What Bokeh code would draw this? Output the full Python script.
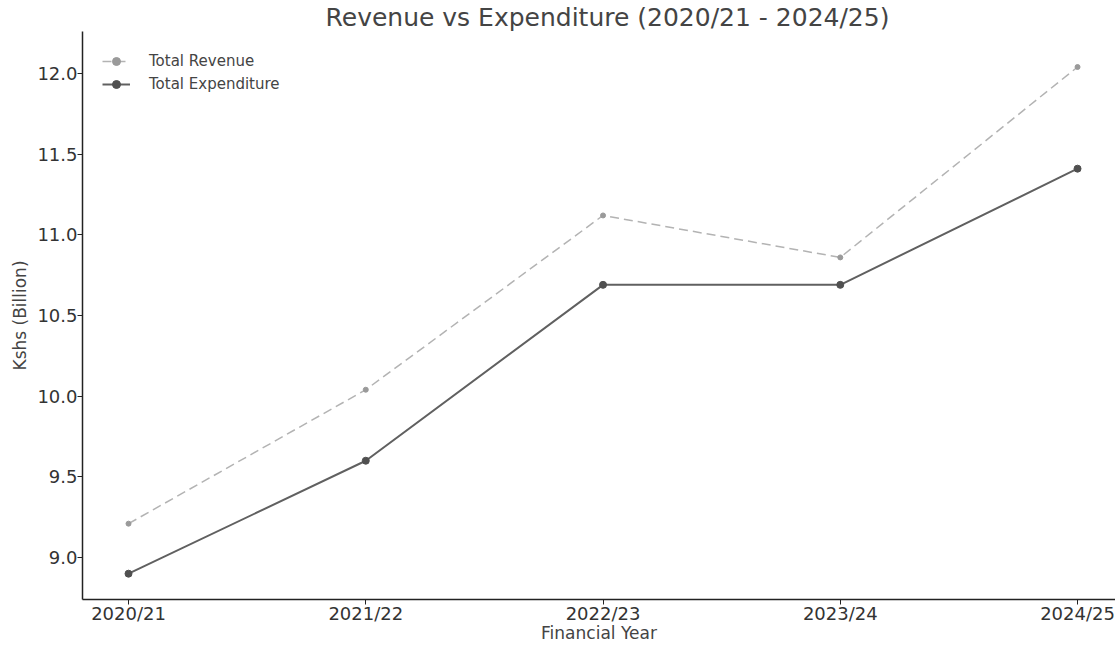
from bokeh.plotting import figure
from bokeh.models import FixedTicker, Range1d, Legend, LegendItem
from bokeh.embed import file_html
from bokeh.resources import INLINE

years = ["2020/21", "2021/22", "2022/23", "2023/24", "2024/25"]
revenue = [9.21, 10.04, 11.12, 10.86, 12.04]
expenditure = [8.90, 9.60, 10.69, 10.69, 11.41]
y_ticks = [9.0, 9.5, 10.0, 10.5, 11.0, 11.5, 12.0]

xs = list(range(len(years)))
FONT = "DejaVu Sans"

p = figure(width=1115, height=646, output_backend="svg", toolbar_location=None,
           x_range=Range1d(-0.194, 4.160), y_range=Range1d(8.74, 12.26),
           min_border_left=82, min_border_right=0, min_border_top=30, min_border_bottom=47,
           title="Revenue vs Expenditure (2020/21 - 2024/25)")

p.title.text_font = FONT
p.title.text_font_size = "25px"
p.title.text_font_style = "normal"
p.title.text_color = "#444444"
p.title.align = "left"
p.title.offset = 243
p.title.standoff = 0

p.outline_line_color = None
p.grid.visible = False
p.background_fill_color = "white"

r_rev_l = p.line(xs, revenue, line_color="#b3b3b3", line_width=1.5, line_dash="9 5")
r_rev_m = p.scatter(xs, revenue, size=5, fill_color="#9a9a9a", line_color="#9a9a9a")
r_exp_l = p.line(xs, expenditure, line_color="#606060", line_width=2)
r_exp_m = p.scatter(xs, expenditure, size=7, fill_color="#505050", line_color="#505050")

legend = Legend(items=[
    LegendItem(label="Total Revenue", renderers=[r_rev_l, r_rev_m]),
    LegendItem(label="Total Expenditure", renderers=[r_exp_l, r_exp_m]),
], location="top_left")
legend.border_line_color = None
legend.background_fill_alpha = 0
legend.label_text_font = FONT
legend.label_text_font_size = "15px"
legend.label_text_color = "#444444"
legend.glyph_width = 28
legend.glyph_height = 20
legend.label_standoff = 19
legend.spacing = 3
legend.margin = 20
legend.padding = 10
p.add_layout(legend)

p.xaxis.ticker = FixedTicker(ticks=xs)
p.xaxis.major_label_overrides = {i: y for i, y in enumerate(years)}
p.yaxis.ticker = FixedTicker(ticks=y_ticks)
p.yaxis.major_label_overrides = {v: f"{v:.1f}" for v in y_ticks}

for ax in (p.xaxis, p.yaxis):
    ax.axis_line_color = "#222222"
    ax.axis_line_width = 1.5
    ax.major_tick_line_color = "#222222"
    ax.major_tick_out = 5
    ax.major_tick_in = 0
    ax.minor_tick_line_color = None
    ax.major_label_text_font = FONT
    ax.major_label_text_font_size = "18px"
    ax.major_label_text_color = "#333333"
    ax.axis_label_text_font = FONT
    ax.axis_label_text_font_size = "17px"
    ax.axis_label_text_font_style = "normal"
    ax.axis_label_text_color = "#444444"

p.xaxis.axis_label = "Financial Year"
p.yaxis.axis_label = "Kshs (Billion)"
p.xaxis.axis_label_standoff = -4
p.yaxis.axis_label_standoff = 4
p.xaxis.major_label_standoff = -2
p.yaxis.major_label_standoff = 0

open("out.html", "w").write(file_html(p, INLINE))
